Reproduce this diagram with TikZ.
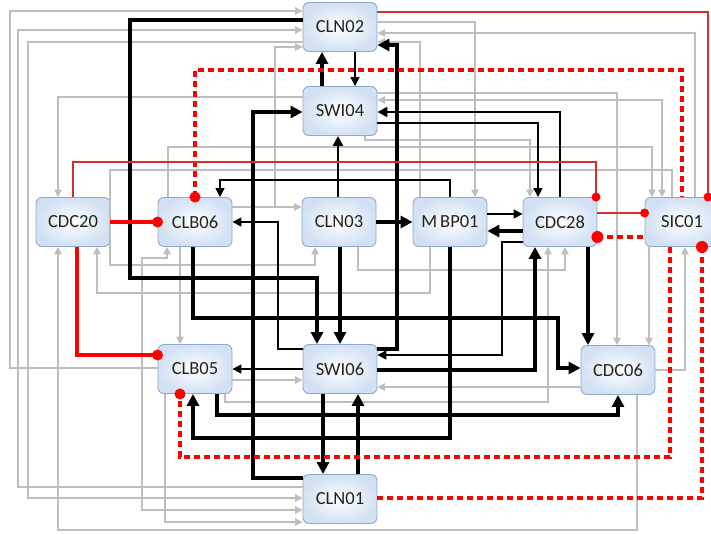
\documentclass[tikz,border=0pt]{standalone}
\usepackage{fontspec}
\setmainfont{Carlito}
\usetikzlibrary{arrows.meta}
\definecolor{bordc}{RGB}{140,170,205}
\definecolor{fillo}{RGB}{210,225,242}
\definecolor{grayl}{RGB}{190,190,190}
\definecolor{redc}{RGB}{255,0,0}
\definecolor{redt}{RGB}{215,45,45}
\definecolor{txtc}{RGB}{35,35,35}
\begin{document}
\begin{tikzpicture}[x=1pt,y=-1pt,
  box/.style={rectangle, rounded corners=6pt, draw=bordc, line width=0.9pt,
    inner color=white, outer color=fillo, minimum width=74pt, minimum height=49pt,
    inner sep=0pt, font=\fontsize{18.5}{20}\selectfont, text=txtc},
  thk/.style={draw=black, line width=3.2pt, -{Triangle[length=12pt,width=12pt]}},
  med/.style={draw=black, line width=2.4pt, -{Triangle[length=10pt,width=10pt]}},
  thn/.style={draw=black, line width=1.6pt, -{Triangle[length=9pt,width=9pt]}},
  gy/.style={draw=grayl, line width=1.1pt, -{Triangle[length=7.5pt,width=7.5pt]}},
  gyb/.style={draw=grayl, line width=1.1pt, {Triangle[length=7.5pt,width=7.5pt]}-{Triangle[length=7.5pt,width=7.5pt]}},
  rthk/.style={draw=redc, line width=3.2pt},
  rthn/.style={draw=redt, line width=1.3pt},
  rdsh/.style={draw=redc, line width=3.4pt, dash pattern=on 6pt off 4pt},
  rdot/.style={fill=redc}]
\fill[white] (0,0) rectangle (711,533);
\useasboundingbox (0,0) rectangle (711,533);

% nodes
\node[box] (CLN02) at (340,27) {CLN02};
\node[box] (SWI04) at (340,111) {SWI04};
\node[box] (CDC20) at (73,222) {CDC20};
\node[box] (CLB06) at (195,222) {CLB06};
\node[box] (CLN03) at (339,222) {CLN03};
\node[box] (MBP01) at (450,222) {M\kern3pt BP01};
\node[box] (CDC28) at (560,222) {CDC28};
\node[box] (SIC01) at (682,222) {SIC01};
\node[box] (CLB05) at (195,369) {CLB05};
\node[box] (SWI06) at (340,369) {SWI06};
\node[box] (CDC06) at (618,370) {CDC06};
\node[box] (CLN01) at (340,499) {CLN01};

% gray connectors
\draw[gy] (CLB05.west |- 0,368) -| (10,11) -- (CLN02.west |- 0,11);
\draw[gy] (CLN01.west |- 0,487) -| (18,30) -- (CLN02.west |- 0,30);
\draw[gy] (CLN02.west |- 0,42) -| (28,498) -- (CLN01.west |- 0,498);
\draw[gy] (CLB06.east |- 0,207) -- (CLN03.west |- 0,207);
\draw[gy] (CLB06.east |- 0,207) -- (275,207) |- (CLN02.west |- 0,47);
\draw[gy] (SWI04.west |- 0,97) -| (CDC20.north -| 58,0);
\draw[gy] (CLN02.east |- 0,22) -| (MBP01.north -| 475,0);
\draw[gy] (SIC01.north -| 695,0) |- (CLN02.east |- 0,33);
\draw[gy] (MBP01.north -| 420,0) |- (CLN02.east |- 0,42);
\draw[gy] (SWI04.east |- 0,93) -| (CDC06.north -| 617,0);
\draw[gyb] (SWI04.east |- 0,100) -| (SIC01.north -| 662,0);
\draw[gy] (CLB06.north -| 168,0) |- (652,147) -- (SIC01.north -| 652,0);
\draw[gy] (SIC01.north -| 672,0) |- (110,170) |- (315,265) -- (CLN03.south -| 315,0);
\draw[gy] (SWI04.south -| 365,0) |- (530,140) -- (CDC28.north -| 530,0);
\draw[gy] (CLB06.south -| 180,0) -- (CLB05.north -| 180,0);
\draw[gyb] (CLN01.west |- 0,510) -| (142,258) -| (CLB06.south -| 167,0);
\draw[gy] (CLB05.south -| 165,0) |- (CLN01.west |- 0,522);
\draw[gy] (MBP01.south -| 430,0) |- (97,293) -- (CDC20.south -| 97,0);
\draw[gy] (CLN03.south -| 358,0) |- (565,270) -- (CDC28.south -| 565,0);
\draw[gy] (CLB05.south -| 225,0) |- (548,402) -- (CDC28.south -| 548,0);
\draw[gy] (CDC06.west |- 0,387) -- (SWI06.east |- 0,387);
\draw[gy] (CLB05.east |- 0,380) -- (SWI06.west |- 0,380);
\draw[gy] (CDC06.east) -| (SIC01.south -| 685,0);
\draw[gy] (SIC01.south -| 649,0) -- (CDC06.north -| 649,0);
\draw[gy] (CDC06.south -| 637,0) |- (58,530) -- (CDC20.south -| 58,0);

% black connectors
\draw[thk] (CLN02.west |- 0,20) -| (130,278) -| (SWI06.north -| 317,0);
\draw[thk] (CLN03.south -| 340,0) -- (SWI06.north -| 340,0);
\draw[thk] (CLB06.south -| 193,0) |- (558,318) |- (CDC06.west |- 0,368);
\draw[thk] (SWI04.north -| 322,0) -- (CLN02.south -| 322,0);
\draw[thn] (CLN02.south -| 355,0) -- (SWI04.north -| 355,0);
\draw[thk] (CLN01.west |- 0,478) -| (253,112) -- (SWI04.west |- 0,112);
\draw[med] (CLN03.north -| 338,0) -- (SWI04.south -| 338,0);
\draw[med] (CDC28.north -| 560,0) |- (SWI04.east |- 0,112);
\draw[thn] (SWI04.east |- 0,123) -| (CDC28.north -| 538,0);
\draw[thk] (CLN03.east) -- (MBP01.west);
\draw[thn] (MBP01.east |- 0,214) -- (CDC28.west |- 0,214);
\draw[thk] (CDC28.west |- 0,231) -- (MBP01.east |- 0,231);
\draw[thn] (MBP01.north) |- (220,180) -- (CLB06.north -| 220,0);
\draw[thn] (SWI06.west |- 0,349) -- (278,349) |- (CLB06.east);
\draw[thk] (SWI06.east |- 0,349) -- (397,349) |- (CLN02.east |- 0,45);
\draw[thn] (SWI06.west) -- (CLB05.east);
\draw[thk] (SWI06.south -| 323,0) -- (CLN01.north -| 323,0);
\draw[thk] (CLN01.north -| 358,0) -- (SWI06.south -| 358,0);
\draw[thk] (MBP01.south) |- (193,438) -- (CLB05.south -| 193,0);
\draw[thk] (CLB05.south -| 217,0) |- (618,415) -- (CDC06.south);
\draw[thk] (SWI06.east |- 0,370) -| (CDC28.south -| 535,0);
\draw[thn] (CDC28.west |- 0,242) -- (502,242) |- (SWI06.east |- 0,355);
\draw[thk] (CDC28.south -| 588,0) -- (CDC06.north -| 588,0);

% red connectors
\draw[rthk] (CDC20.east) -- (CLB06.west);
\fill[rdot] (CLB06.west) circle (5.5pt);
\draw[rthk] (CDC20.south -| 77,0) |- (CLB05.west |- 0,355);
\fill[rdot] (CLB05.west |- 0,355) circle (5.5pt);
\draw[rdsh] (CLB06.north) |- (682,70) -- (SIC01.north -| 682,0);
\fill[rdot] (CLB06.north) circle (5.5pt);
\draw[rthn] (CDC20.north) |- (596,162) -- (CDC28.north -| 596,0);
\fill[rdot] (CDC28.north -| 596,0) circle (4.5pt);
\draw[rthn] (CLN02.east |- 0,12) -| (SIC01.north -| 708,0);
\fill[rdot] (SIC01.north -| 708,0) circle (4.5pt);
\draw[rthn] (CDC28.east |- 0,213) -- (SIC01.west |- 0,213);
\fill[rdot] (SIC01.west |- 0,213) circle (4.5pt);
\draw[rdsh] (CDC28.east |- 0,237) -- (SIC01.west |- 0,237);
\fill[rdot] (CDC28.east |- 0,237) circle (6pt);
\draw[rdsh] (SIC01.south -| 702,0) |- (CLN01.east |- 0,498);
\fill[rdot] (SIC01.south -| 702,0) circle (6pt);
\draw[rdsh] (SIC01.south -| 670,0) |- (180,457) -- (CLB05.south -| 180,0);
\fill[rdot] (CLB05.south -| 180,0) circle (5.5pt);
\end{tikzpicture}
\end{document}
